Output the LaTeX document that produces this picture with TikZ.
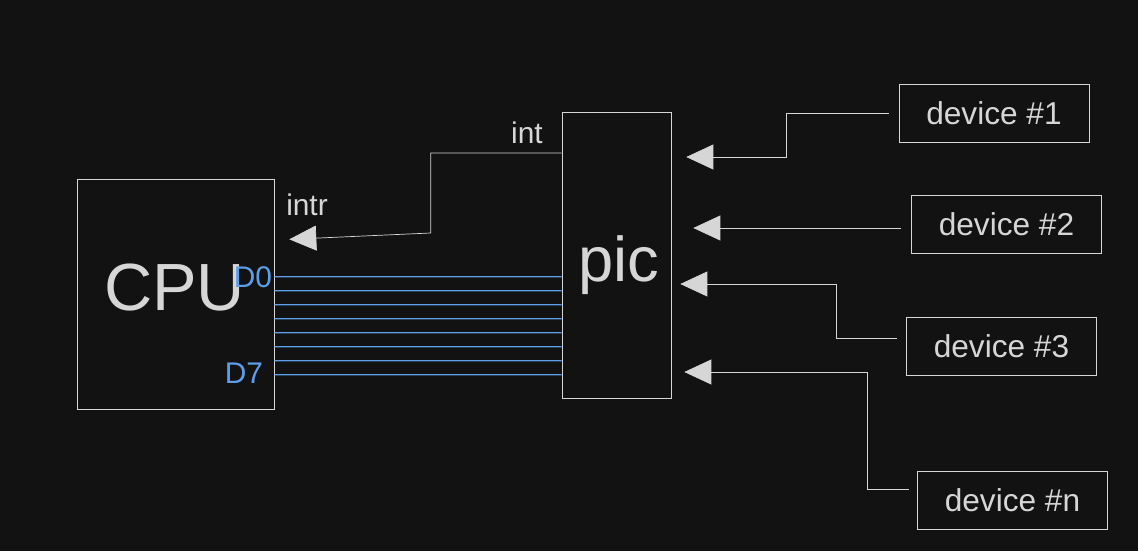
\documentclass[tikz,border=0pt]{standalone}
\usepackage{fontspec}
\setmainfont{Liberation Sans}
\usetikzlibrary{arrows.meta,calc,positioning}
\definecolor{board}{HTML}{121212}
\definecolor{chalk}{HTML}{D6D6D6}
\definecolor{bus}{HTML}{5C9EE8}
\tikzset{>={Triangle[length=.54cm,width=.5cm]},line width=1pt,
  every node/.style={font=\fontsize{17}{20}\selectfont,text=chalk},
  block/.style={draw=chalk,inner sep=0pt},
  devbox/.style={block,minimum width=3.8cm,minimum height=1.16cm,font=\fontsize{18}{21}\selectfont},
  wire/.style={->,draw=chalk},
  busline/.style={draw=bus,line width=.75pt},
  buslabel/.style={text=bus}}

\begin{document}
\begin{tikzpicture}[x=.02cm,y=-.02cm]
\fill[board] (0,0) rectangle (1138,551);
\node[block,minimum width=3.94cm,minimum height=4.6cm] (cpu) at (175.5,294) {};
\node[font=\fontsize{38}{40}\selectfont] (cputext) at ($(cpu)+(-1,-6)$) {CPU};
\node[block,minimum width=2.18cm,minimum height=5.72cm] (pic) at (616.5,255) {};
\node[font=\fontsize{36}{38}\selectfont] (pictext) at ($(pic)+(2,10)$) {pic};
\node[devbox] (dev1) at (994,113.5) {device \#1};
\node[devbox] (dev2) at (1006.5,224) {device \#2};
\node[devbox] (dev3) at (1001.5,346) {device \#3};
\node[devbox] (devn) at (1012.5,500) {device \#n};
\node (intr) at (307,205) {intr};
\node (int) at (527,133) {int};
\node[buslabel] (d0) at (253,277) {D0};
\node[buslabel] (d7) at (244,373) {D7};
% where the wires meet the boxes
\coordinate (cpuin) at (cpu.east |- 0,240);
\coordinate (picout) at (pic.west |- 0,153);
\coordinate (in1) at (pic.east |- 0,157);
\coordinate (in2) at (pic.east |- 0,228);
\coordinate (in3) at (pic.east |- 0,284);
\coordinate (in4) at (pic.east |- 0,372);
\draw[wire,shorten >=.3cm] (picout) -- ++(-131,0) -- ++(0,80) -- (cpuin);
\draw[wire,shorten <=.2cm,shorten >=.3cm] (dev1.west) -- ++(-112,0) |- (in1);
\draw[wire,shorten <=.2cm,shorten >=.44cm] (dev2.west |- in2) -- (in2);
\draw[wire,shorten <=.18cm,shorten >=.18cm] ($(dev3.west)+(0,-8)$) -- ++(-70,0) |- (in3);
\draw[wire,shorten <=.16cm,shorten >=.26cm] ($(devn.west)+(0,-11)$) -- ++(-50,0) |- (in4);
% data bus D0..D7
\foreach \i in {0,...,7}
  \draw[busline] ($(cpu.north east)+(0,98+14*\i)$) -- ($(pic.north west)+(0,165+14*\i)$);
\end{tikzpicture}
\end{document}
